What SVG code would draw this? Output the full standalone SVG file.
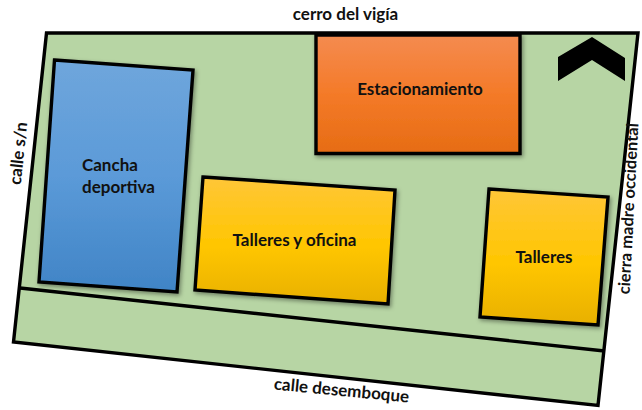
<svg xmlns="http://www.w3.org/2000/svg" width="642" height="410" viewBox="0 0 642 410">
<style>
.t{font-family:Lato,"Open Sans","Liberation Sans",sans-serif;font-weight:700;font-size:17px;fill:#111}
.m{text-anchor:middle}
.b{stroke:#000;stroke-width:3.4;stroke-linejoin:miter;filter:url(#sh)}
</style>
<defs>
<linearGradient id="gb" x1="0" y1="0" x2="0" y2="1"><stop offset="0" stop-color="#6fa6dc"/><stop offset=".5" stop-color="#5b9ad8"/><stop offset="1" stop-color="#4084c6"/></linearGradient>
<linearGradient id="go" x1="0" y1="0" x2="0" y2="1"><stop offset="0" stop-color="#f48b50"/><stop offset=".5" stop-color="#f47a28"/><stop offset="1" stop-color="#e66c14"/></linearGradient>
<linearGradient id="gy" x1="0" y1="0" x2="0" y2="1"><stop offset="0" stop-color="#ffc638"/><stop offset=".55" stop-color="#ffc600"/><stop offset="1" stop-color="#e8b000"/></linearGradient>
<filter id="sh" x="-10%" y="-10%" width="125%" height="125%"><feDropShadow dx="1.5" dy="2" stdDeviation="2.2" flood-color="#000" flood-opacity=".4"/></filter>
</defs>
<rect width="642" height="410" fill="#fff"/>
<g id="terreno">
<polygon points="46.500,33 638,33 598,405.500 13.500,342" fill="#b7d5a4" stroke="#000" stroke-width="3.400"/>
</g>
<g id="connectors">
<line x1="20" y1="288" x2="604.500" y2="351" stroke="#000" stroke-width="3.400"/>
</g>
<g id="cancha">
<polygon class="b" points="54.500,60 193,70 177,292 39,282" fill="url(#gb)"/>
<text class="t" x="82" y="171">Cancha</text>
<text class="t" x="82" y="193">deportiva</text>
</g>
<g id="estacionamiento">
<polygon class="b" points="316,35 520,35 520,153.500 316,153.500" fill="url(#go)"/>
<text class="t m" x="420" y="95">Estacionamiento</text>
</g>
<g id="talleres-oficina">
<polygon class="b" points="203,177 395,190 388,304 195,290" fill="url(#gy)"/>
<text class="t m" x="294.500" y="246">Talleres y oficina</text>
</g>
<g id="talleres">
<polygon class="b" points="489,189 608,197 598,325 480,317" fill="url(#gy)"/>
<text class="t m" x="544" y="263">Talleres</text>
</g>
<g id="norte">
<polygon points="592,37 625,58 625,81 592,60 558,81 558,57" fill="#000"/>
</g>
<g id="labels">
<text class="t m" x="345.500" y="20">cerro del vigía</text>
<text class="t m" transform="translate(24,154) rotate(-84)">calle s/n</text>
<text class="t m" transform="translate(341,396) rotate(5.500)">calle desemboque</text>
<text class="t m" font-size="16.500" style="font-size:16.500px" transform="translate(634,209) rotate(-87)">cierra madre occidental</text>
</g>
</svg>
